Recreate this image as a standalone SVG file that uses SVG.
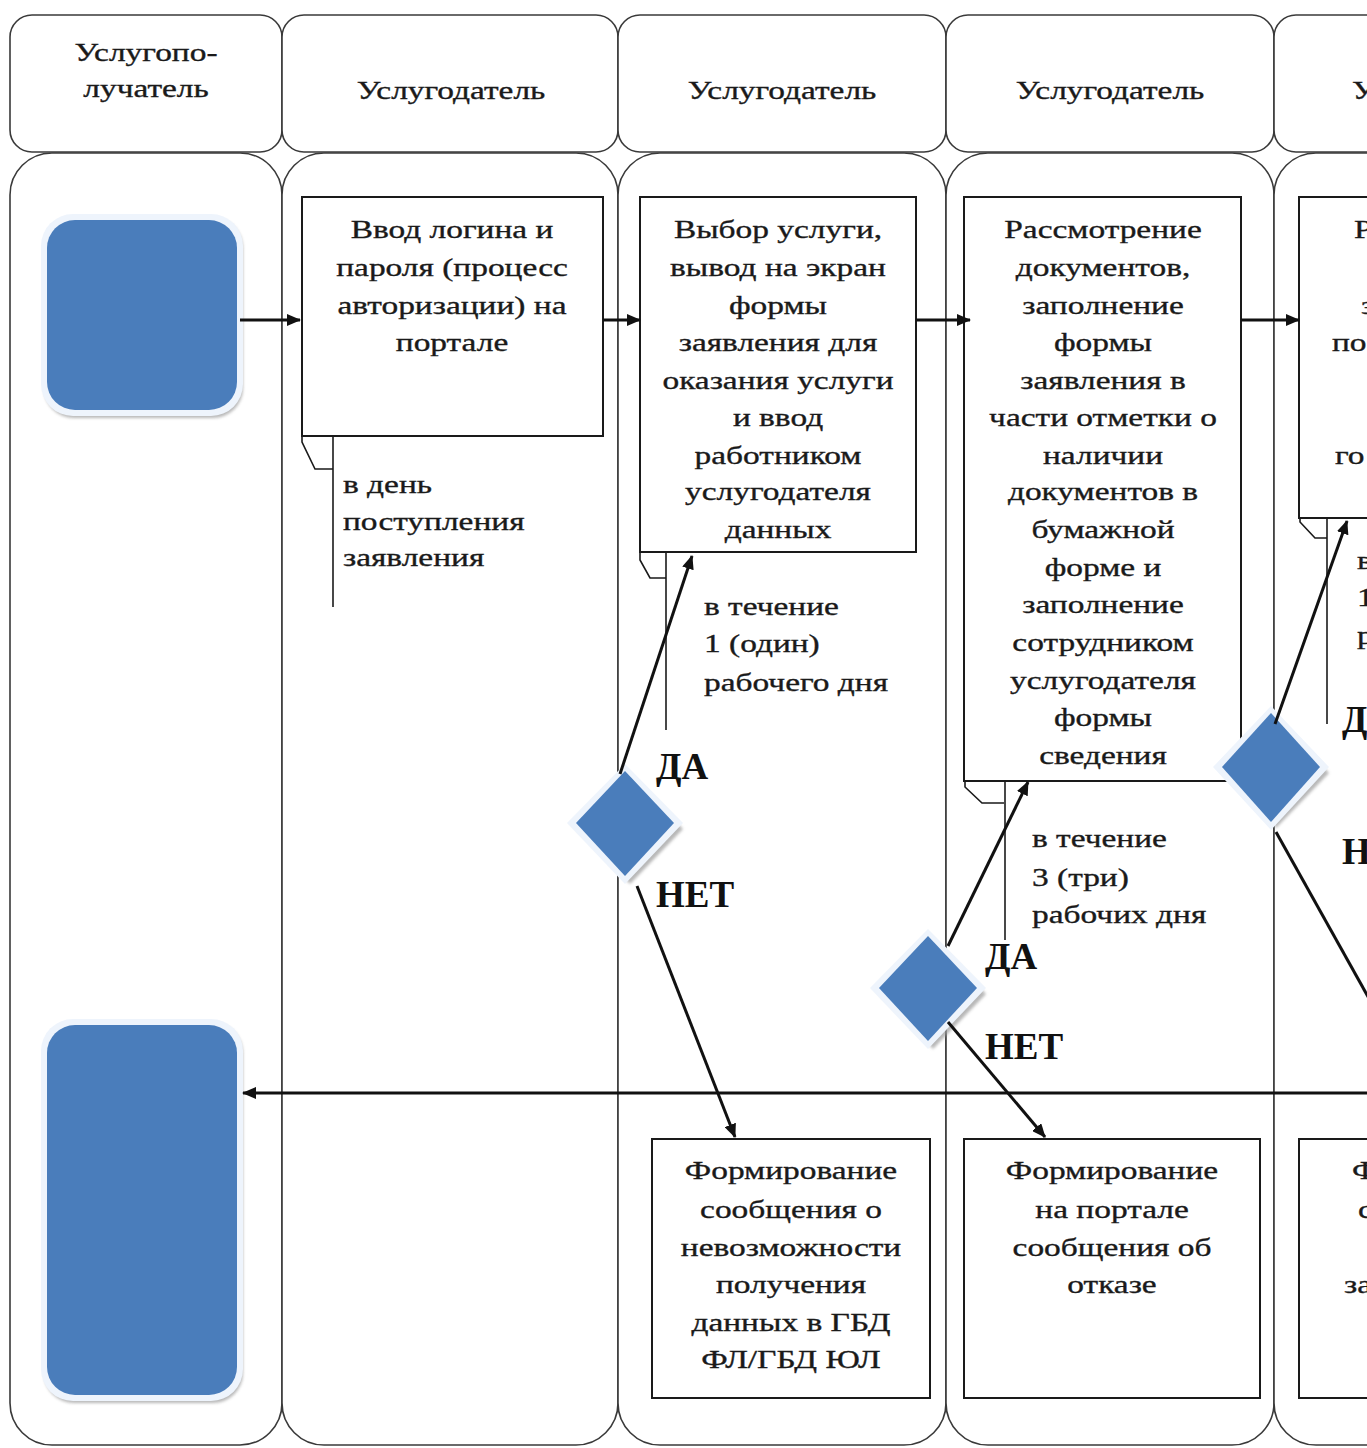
<svg xmlns="http://www.w3.org/2000/svg" width="1367" height="1448" viewBox="0 0 1367 1448">
<style>
.lane{fill:#fff;stroke:#3a3a3a;stroke-width:1.6}
.box{fill:#fff;stroke:#1a1a1a;stroke-width:2}
.t{font-family:"Liberation Serif","Times New Roman",serif;font-size:25.5px;fill:#1a1a1a;stroke:#1a1a1a;stroke-width:0.35}
.c{text-anchor:middle}
.b{font-family:"Liberation Serif","Times New Roman",serif;font-size:37px;font-weight:bold;fill:#111}
.ln{fill:none;stroke:#111;stroke-width:3}
.br{fill:none;stroke:#1a1a1a;stroke-width:1.6}
.blue{fill:#4a7dbb}
.rim{fill:#eef4fc}
.sh{fill:#9a9a9a;opacity:0.7}
</style>
<defs>
<marker id="ah" viewBox="0 0 14 12" refX="13" refY="6" markerWidth="14" markerHeight="12" markerUnits="userSpaceOnUse" orient="auto">
<path d="M0,0 L14,6 L0,12 Z" fill="#111"/>
</marker>
<filter id="blur" x="-20%" y="-20%" width="140%" height="140%"><feGaussianBlur stdDeviation="1.5"/></filter>
</defs>
<rect width="1367" height="1448" fill="#fff"/>

<g id="lanes">
<rect class="lane" x="10" y="15" width="272" height="137" rx="22"/>
<rect class="lane" x="282" y="15" width="336" height="137" rx="22"/>
<rect class="lane" x="618" y="15" width="328" height="137" rx="22"/>
<rect class="lane" x="946" y="15" width="328" height="137" rx="22"/>
<rect class="lane" x="1274" y="15" width="300" height="137" rx="22"/>
<rect class="lane" x="10" y="153" width="272" height="1292" rx="42"/>
<rect class="lane" x="282" y="153" width="336" height="1292" rx="42"/>
<rect class="lane" x="618" y="153" width="328" height="1292" rx="42"/>
<rect class="lane" x="946" y="153" width="328" height="1292" rx="42"/>
<rect class="lane" x="1274" y="153" width="300" height="1292" rx="42"/>
<g transform="translate(146,0) scale(1.31,1)">
<text class="t c" x="0" y="61">Услугопо-</text>
<text class="t c" x="0" y="97">лучатель</text>
</g>
<g transform="translate(451,0) scale(1.31,1)"><text class="t c" x="0" y="99">Услугодатель</text></g>
<g transform="translate(782,0) scale(1.31,1)"><text class="t c" x="0" y="99">Услугодатель</text></g>
<g transform="translate(1110,0) scale(1.31,1)"><text class="t c" x="0" y="99">Услугодатель</text></g>
<g transform="translate(1352,0) scale(1.31,1)"><text class="t" x="0" y="99">У</text></g>
</g>

<g id="start">
<rect class="sh" x="44" y="218" width="199" height="200" rx="30" filter="url(#blur)"/>
<rect class="rim" x="41" y="214" width="202" height="202" rx="32"/>
<rect class="blue" x="47" y="220" width="190" height="190" rx="28"/>
</g>

<g id="end">
<rect class="sh" x="44" y="1023" width="199" height="380" rx="30" filter="url(#blur)"/>
<rect class="rim" x="41" y="1019" width="202" height="382" rx="32"/>
<rect class="blue" x="47" y="1025" width="190" height="370" rx="28"/>
</g>

<g id="box1">
<rect class="box" x="302" y="197" width="301" height="239"/>
<g transform="translate(452,0) scale(1.31,1)">
<text class="t c" x="0" y="238">Ввод логина и</text>
<text class="t c" x="0" y="276">пароля (процесс</text>
<text class="t c" x="0" y="314">авторизации) на</text>
<text class="t c" x="0" y="351">портале</text>
</g>
<polyline class="br" points="302,436 302,442 315,469 333,469"/>
<line class="br" x1="333" y1="436" x2="333" y2="607"/>
<g transform="translate(343,0) scale(1.31,1)">
<text class="t" x="0" y="493">в день</text>
<text class="t" x="0" y="530">поступления</text>
<text class="t" x="0" y="566">заявления</text>
</g>
</g>

<g id="box2">
<rect class="box" x="640" y="197" width="276" height="355"/>
<g transform="translate(778,0) scale(1.31,1)">
<text class="t c" x="0" y="238">Выбор услуги,</text>
<text class="t c" x="0" y="276">вывод на экран</text>
<text class="t c" x="0" y="314">формы</text>
<text class="t c" x="0" y="351">заявления для</text>
<text class="t c" x="0" y="389">оказания услуги</text>
<text class="t c" x="0" y="426">и ввод</text>
<text class="t c" x="0" y="464">работником</text>
<text class="t c" x="0" y="500">услугодателя</text>
<text class="t c" x="0" y="538">данных</text>
</g>
<polyline class="br" points="640,552 640,560 650,578 666,578"/>
<line class="br" x1="666" y1="552" x2="666" y2="730"/>
<g transform="translate(704,0) scale(1.31,1)">
<text class="t" x="0" y="615">в течение</text>
<text class="t" x="0" y="652">1 (один)</text>
<text class="t" x="0" y="691">рабочего дня</text>
</g>
</g>

<g id="box3">
<rect class="box" x="652" y="1139" width="278" height="259"/>
<g transform="translate(791,0) scale(1.31,1)">
<text class="t c" x="0" y="1179">Формирование</text>
<text class="t c" x="0" y="1218">сообщения о</text>
<text class="t c" x="0" y="1256">невозможности</text>
<text class="t c" x="0" y="1293">получения</text>
<text class="t c" x="0" y="1331">данных в ГБД</text>
<text class="t c" x="0" y="1368">ФЛ/ГБД ЮЛ</text>
</g>
</g>

<g id="box4">
<rect class="box" x="964" y="197" width="277" height="584"/>
<g transform="translate(1103,0) scale(1.31,1)">
<text class="t c" x="0" y="238">Рассмотрение</text>
<text class="t c" x="0" y="276">документов,</text>
<text class="t c" x="0" y="314">заполнение</text>
<text class="t c" x="0" y="351">формы</text>
<text class="t c" x="0" y="389">заявления в</text>
<text class="t c" x="0" y="426">части отметки о</text>
<text class="t c" x="0" y="464">наличии</text>
<text class="t c" x="0" y="500">документов в</text>
<text class="t c" x="0" y="538">бумажной</text>
<text class="t c" x="0" y="576">форме и</text>
<text class="t c" x="0" y="613">заполнение</text>
<text class="t c" x="0" y="651">сотрудником</text>
<text class="t c" x="0" y="689">услугодателя</text>
<text class="t c" x="0" y="726">формы</text>
<text class="t c" x="0" y="764">сведения</text>
</g>
<polyline class="br" points="965,781 965,787 982,803 1004,803"/>
<line class="br" x1="1005" y1="781" x2="1005" y2="940"/>
<g transform="translate(1032,0) scale(1.31,1)">
<text class="t" x="0" y="847">в течение</text>
<text class="t" x="0" y="886">3 (три)</text>
<text class="t" x="0" y="923">рабочих дня</text>
</g>
</g>

<g id="box5">
<rect class="box" x="964" y="1139" width="296" height="259"/>
<g transform="translate(1112,0) scale(1.31,1)">
<text class="t c" x="0" y="1179">Формирование</text>
<text class="t c" x="0" y="1218">на портале</text>
<text class="t c" x="0" y="1256">сообщения об</text>
<text class="t c" x="0" y="1293">отказе</text>
</g>
</g>

<g id="box6">
<rect class="box" x="1299" y="197" width="200" height="321"/>
<g transform="translate(1354,0) scale(1.31,1)"><text class="t" x="0" y="238">Р</text></g>
<g transform="translate(1361,0) scale(1.31,1)"><text class="t" x="0" y="314">з</text></g>
<g transform="translate(1332,0) scale(1.31,1)"><text class="t" x="0" y="351">по</text></g>
<g transform="translate(1335,0) scale(1.31,1)"><text class="t" x="0" y="464">го</text></g>
<polyline class="br" points="1300,518 1300,522 1315,538 1327,538"/>
<line class="br" x1="1327" y1="518" x2="1327" y2="724"/>
<g transform="translate(1357,0) scale(1.31,1)">
<text class="t" x="0" y="569">в</text>
<text class="t" x="0" y="606">1</text>
<text class="t" x="0" y="644">р</text>
</g>
</g>

<g id="box7">
<rect class="box" x="1299" y="1139" width="200" height="259"/>
<g transform="translate(1352,0) scale(1.31,1)"><text class="t" x="0" y="1179">Ф</text></g>
<g transform="translate(1358,0) scale(1.31,1)"><text class="t" x="0" y="1218">с</text></g>
<g transform="translate(1344,0) scale(1.31,1)"><text class="t" x="0" y="1293">за</text></g>
</g>

<g id="d1">
<polygon class="sh" points="630,774 683,829 630,884 577,829" filter="url(#blur)"/>
<polygon class="rim" points="625,764 683,823 625,884 567,823"/>
<polygon class="blue" points="625,771 674,823 625,876 576,823"/>
</g>
<g id="d2">
<polygon class="sh" points="933,939 986,994 933,1049 880,994" filter="url(#blur)"/>
<polygon class="rim" points="928,929 986,988 928,1049 870,988"/>
<polygon class="blue" points="928,936 977,988 928,1041 879,988"/>
</g>
<g id="d3">
<polygon class="sh" points="1276,718 1329,773 1276,828 1223,773" filter="url(#blur)"/>
<polygon class="rim" points="1271,706 1329,767 1271,830 1213,767"/>
<polygon class="blue" points="1271,713 1320,767 1271,822 1222,767"/>
</g>

<g id="labels">
<text class="b" x="656" y="779">ДА</text>
<text class="b" x="656" y="907">НЕТ</text>
<text class="b" x="985" y="969">ДА</text>
<text class="b" x="985" y="1059">НЕТ</text>
<text class="b" x="1342" y="732">Д</text>
<text class="b" x="1342" y="864">Н</text>
</g>

<g id="connectors">
<line class="ln" x1="240" y1="320" x2="300" y2="320" marker-end="url(#ah)"/>
<line class="ln" x1="603" y1="320" x2="640" y2="320" marker-end="url(#ah)"/>
<line class="ln" x1="916" y1="320" x2="970" y2="320" marker-end="url(#ah)"/>
<line class="ln" x1="1241" y1="320" x2="1299" y2="320" marker-end="url(#ah)"/>
<line class="ln" x1="620" y1="774" x2="692" y2="556" marker-end="url(#ah)"/>
<line class="ln" x1="637" y1="886" x2="735" y2="1137" marker-end="url(#ah)"/>
<line class="ln" x1="948" y1="946" x2="1028" y2="782" marker-end="url(#ah)"/>
<line class="ln" x1="948" y1="1022" x2="1045" y2="1137" marker-end="url(#ah)"/>
<line class="ln" x1="1275" y1="724" x2="1347" y2="521" marker-end="url(#ah)"/>
<line class="ln" x1="1276" y1="832" x2="1395" y2="1045"/>
<line class="ln" x1="1367" y1="1093" x2="243" y2="1093" stroke-width="3.4" marker-end="url(#ah)"/>
</g>
</svg>
